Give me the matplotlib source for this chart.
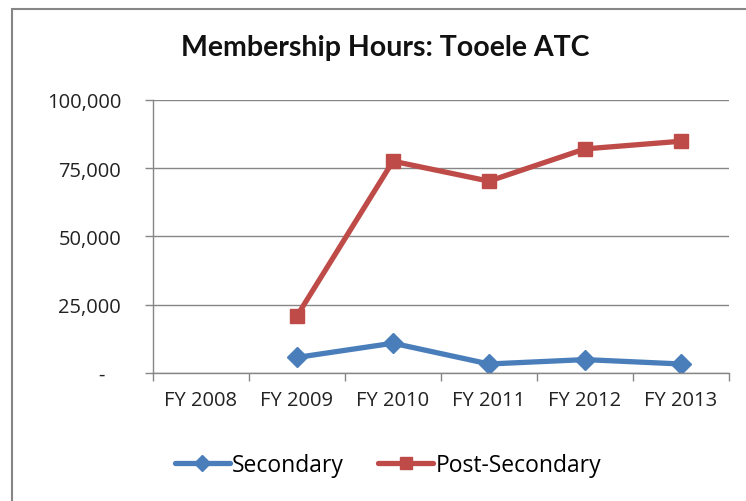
import numpy as np
import matplotlib
matplotlib.use("Agg")
import matplotlib.pyplot as plt
from matplotlib.patches import Rectangle

# data
years = ["FY 2008", "FY 2009", "FY 2010", "FY 2011", "FY 2012", "FY 2013"]
secondary = [np.nan, 5700, 10900, 3300, 4900, 3300]
post_secondary = [np.nan, 20900, 77500, 70200, 82000, 84800]
ytick_vals = [0, 25000, 50000, 75000, 100000]
ytick_labels = ["-   ", "25,000", "50,000", "75,000", "100,000"]

grey = "#868686"
plt.rcParams['font.family'] = ['Open Sans', 'DejaVu Sans']

fig = plt.figure(figsize=(7.46, 5.02), dpi=100)
ax = fig.add_axes([153/746, 1 - 374/502, (729 - 153)/746, (374 - 100.7)/502])

x = np.arange(len(years))
ax.plot(x, secondary, color="#4A7EBB", lw=3.8, marker="D", ms=10,
        label="Secondary", solid_capstyle="round")
ax.plot(x, post_secondary, color="#BE4B48", lw=3.8, marker="s", ms=10.5,
        label="Post-Secondary", solid_capstyle="round")

ax.set_xlim(-0.5, len(years) - 0.5)
ax.set_ylim(0, 100000)

ax.set_yticks(ytick_vals)
ax.set_yticklabels(ytick_labels, fontsize=14.5, color="#222222")
ax.yaxis.grid(True, color=grey, lw=1)
ax.set_axisbelow(True)

# category boundaries get the ticks, labels sit in the middle
ax.set_xticks(np.arange(-0.5, len(years)))
ax.set_xticklabels([])
ax.set_xticks(x, minor=True)
ax.set_xticklabels(years, minor=True, fontsize=14.5, color="#222222")
ax.tick_params(axis="x", which="major", length=6, width=1, color=grey, direction="out")
ax.tick_params(axis="x", which="minor", length=0, pad=12)
ax.tick_params(axis="y", length=6, width=1, color=grey, direction="out", pad=17)

for side in ["top", "right"]:
    ax.spines[side].set_visible(False)
for side in ["left", "bottom"]:
    ax.spines[side].set_color(grey)
    ax.spines[side].set_linewidth(1)

fig.text(385/746, 1 - 48/502, "Membership Hours: Tooele ATC", ha="center", va="center",
         fontsize=20.5, fontweight="bold", family=["Lato", "DejaVu Sans"], color="#111111")

ax.legend(loc="center", bbox_to_anchor=(388/746, 1 - 466/502), bbox_transform=fig.transFigure,
          ncol=2, frameon=False, fontsize=16.5, handlelength=2.4, columnspacing=1.5,
          handletextpad=0.1, markerscale=0.85)

fig.patches.append(Rectangle((12/746, -0.1), 1.2, 1.1 - 10/502, transform=fig.transFigure,
                             fill=False, ec=grey, lw=1.5))

fig.savefig("out.png", dpi=100, facecolor="white")
